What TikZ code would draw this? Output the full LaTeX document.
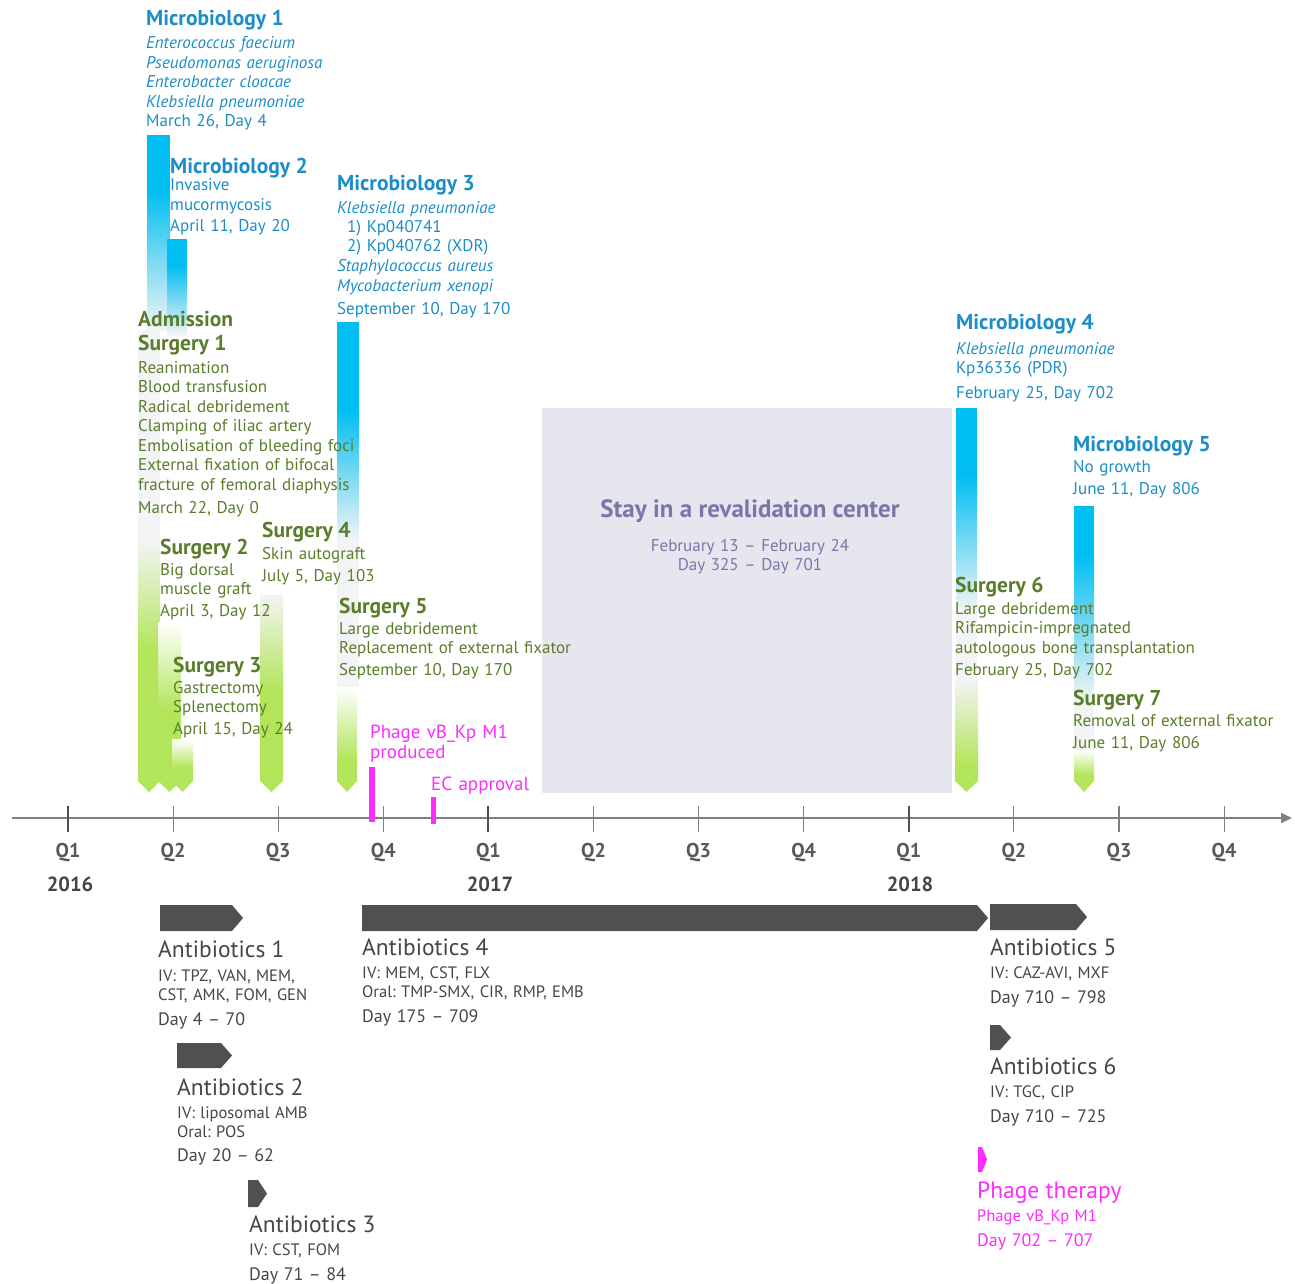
\documentclass[tikz,border=0pt]{standalone}
\usepackage{fontspec}
\setmainfont{PT Sans}
\frenchspacing
\usetikzlibrary{arrows.meta}
\definecolor{microblue}{HTML}{1C8DC6}
\definecolor{barcyan}{HTML}{00BEF2}
\definecolor{barpale}{HTML}{F3F4F5}
\definecolor{surggreen}{HTML}{5A7D2B}
\definecolor{bargreen}{HTML}{B3E55A}
\definecolor{staybox}{HTML}{E6E6EF}
\definecolor{staytext}{HTML}{7A76AA}
\definecolor{abdark}{HTML}{505050}
\definecolor{abtext}{HTML}{454545}
\definecolor{phage}{HTML}{FF2BFF}
\definecolor{axisgray}{HTML}{808080}

\begin{document}
\begin{tikzpicture}[x=1pt, y=-1pt,
        microhead/.style={anchor=base west, inner sep=0, text=microblue, font=\fontsize{21.5}{24}\selectfont\bfseries},
        microtext/.style={anchor=base west, inner sep=0, text width=340pt, align=left, text=microblue, font=\fontsize{17}{19.5}\selectfont},
        surghead/.style={anchor=base west, inner sep=0, text=surggreen, font=\fontsize{21.5}{24}\selectfont\bfseries},
        surgtext/.style={anchor=base west, inner sep=0, text width=340pt, align=left, text=surggreen, font=\fontsize{17}{19.5}\selectfont},
        abhead/.style={anchor=base west, inner sep=0, text=abtext, font=\fontsize{23.5}{26}\selectfont},
        abtextbox/.style={anchor=base west, inner sep=0, text width=340pt, align=left, text=abtext, font=\fontsize{16.5}{19}\selectfont},
        abarrow/.style={fill=abdark},
        phagetext/.style={anchor=base west, inner sep=0, text width=200pt, align=left, text=phage, font=\fontsize{19}{20}\selectfont},
        quarter/.style={anchor=base, inner sep=0, text=abtext!90, font=\fontsize{20}{22}\selectfont\bfseries},
        year/.style={anchor=base, inner sep=0, text=abtext, font=\fontsize{20.5}{23}\selectfont\bfseries}
    ]
    \useasboundingbox (0,0) rectangle (1295,1284);

    % revalidation stay
    \fill[staybox] (542,408) rectangle (952,793);
    \node[anchor=base, inner sep=0, text=staytext, font=\fontsize{25}{28}\selectfont\bfseries] (stay) at (750,517) {Stay in a revalidation center};
    \node[anchor=base, inner sep=0, text width=300pt, align=center, text=staytext, font=\fontsize{17}{19}\selectfont] (staydays) at (750,551) {February 13 – February 24\\Day 325 – Day 701};

    % microbiology bars
    \fill[barcyan] (147,135) rectangle (170,190);
    \shade[top color=barcyan, bottom color=barpale] (147,190) rectangle (170,330);
    \fill[barcyan] (167,239) rectangle (187,265);
    \shade[top color=barcyan, bottom color=barpale] (167,265) rectangle (187,335);
    \fill[barcyan] (337,322) rectangle (359,410);
    \shade[top color=barcyan, bottom color=barpale] (337,410) rectangle (359,540);
    \fill[barpale] (337,540) rectangle (359,687);
    \fill[barcyan] (956,408) rectangle (977,475);
    \shade[top color=barcyan, bottom color=barpale] (956,475) rectangle (977,610);
    \fill[barpale] (956,610) rectangle (977,680);
    \fill[barcyan] (1074,506) rectangle (1094,555);
    \shade[top color=barcyan, bottom color=barpale] (1074,555) rectangle (1094,700);
    \fill[barpale] (1074,700) rectangle (1094,750);

    % surgery bars
    \fill[barpale] (138,330) rectangle (160,540);
    \shade[top color=barpale, bottom color=bargreen] (138,540) rectangle (160,650);
    \fill[bargreen] (138,650) -- (160,650) -- (160,781) -- (149,792) -- (138,781) -- cycle;
    \shade[top color=white, bottom color=bargreen] (158,622) rectangle (181,710);
    \fill[bargreen] (158,710) -- (181,710) -- (181,781) -- (169.5,792) -- (158,781) -- cycle;
    \shade[top color=white, bottom color=bargreen] (172,739) rectangle (193,768);
    \fill[bargreen] (172,768) -- (193,768) -- (193,781) -- (182.5,792) -- (172,781) -- cycle;
    \shade[top color=barpale, bottom color=bargreen] (260,595) rectangle (283,690);
    \fill[bargreen] (260,690) -- (283,690) -- (283,781) -- (271.5,792) -- (260,781) -- cycle;
    \shade[top color=white, bottom color=bargreen] (337,687) rectangle (357,760);
    \fill[bargreen] (337,760) -- (357,760) -- (357,781) -- (347,792) -- (337,781) -- cycle;
    \shade[top color=barpale, bottom color=bargreen] (955,680) rectangle (978,765);
    \fill[bargreen] (955,765) -- (978,765) -- (978,781) -- (966.5,792) -- (955,781) -- cycle;
    \shade[top color=white, bottom color=bargreen] (1074,750) rectangle (1094,775);
    \fill[bargreen] (1074,775) -- (1094,775) -- (1094,781) -- (1084,792) -- (1074,781) -- cycle;

    % time axis
    \coordinate (axisstart) at (12,818);
    \coordinate (axisend) at (1292,818);
    \draw[axisgray, line width=1.4pt, -{Triangle[length=11pt, width=10pt]}] (axisstart) -- (axisend);
    \foreach \i/\q in {0/Q1,1/Q2,2/Q3,3/Q4,4/Q1,5/Q2,6/Q3,7/Q4,8/Q1,9/Q2,10/Q3,11/Q4} {
        \draw[axisgray, line width=1.1pt] (68+105.1*\i,806) -- (68+105.1*\i,832);
        \node[quarter] (q\i) at (68+105.1*\i,857) {\q};
    }
    \foreach \i in {0,4,8}
        \draw[abdark, line width=2pt] (68+105.1*\i,806) -- (68+105.1*\i,832);
    \node[year] (y2016) at (70,891) {2016};
    \node[year] (y2017) at (490,891) {2017};
    \node[year] (y2018) at (910,891) {2018};

    % phage events
    \fill[phage] (369,767) rectangle (375,822);
    \fill[phage] (431,797) rectangle (436,824);
    \node[phagetext] (produced) at (370,738) {Phage vB\_Kp M1\\produced};
    \node[phagetext] (ecok) at (431,790) {EC approval};

    % microbiology texts
    \node[microhead] (micro1) at (146,26) {Microbiology 1};
    \node[microtext] (micro1txt) at (146,49) {\textit{Enterococcus faecium}\\\textit{Pseudomonas aeruginosa}\\\textit{Enterobacter cloacae}\\\textit{Klebsiella pneumoniae}\\March 26, Day 4};
    \node[microhead] (micro2) at (170,174) {Microbiology 2};
    \node[microtext] (micro2txt) at (170,191) {Invasive\\mucormycosis\\[1.5pt]April 11, Day 20};
    \node[microhead] (micro3) at (337,190) {Microbiology 3};
    \node[microtext] (micro3txt) at (337,213) {\textit{Klebsiella pneumoniae}\\\hspace{10pt}1) Kp040741\\\hspace{10pt}2) Kp040762 (XDR)\\\textit{Staphylococcus aureus}\\\textit{Mycobacterium xenopi}\\[3.5pt]September 10, Day 170};
    \node[microhead] (micro4) at (956,329) {Microbiology 4};
    \node[microtext] (micro4txt) at (956,354) {\textit{Klebsiella pneumoniae}\\Kp36336 (PDR)\\[5pt]February 25, Day 702};
    \node[microhead] (micro5) at (1073,451) {Microbiology 5};
    \node[microtext] (micro5txt) at (1073,472) {No growth\\[2.5pt]June 11, Day 806};

    % surgery texts
    \node[surghead] (admission) at (138,326) {Admission};
    \node[surghead] (surg1) at (138,350) {Surgery 1};
    \node[surgtext] (surg1txt) at (138,373) {Reanimation\\Blood transfusion\\Radical debridement\\Clamping of iliac artery\\Embolisation of bleeding foci\\External fixation of bifocal\\fracture of femoral diaphysis\\[3.5pt]March 22, Day 0};
    \node[surghead] (surg2) at (160,554) {Surgery 2};
    \node[surgtext] (surg2txt) at (160,575) {Big dorsal\\muscle graft\\[2.5pt]April 3, Day 12};
    \node[surghead] (surg3) at (173,672) {Surgery 3};
    \node[surgtext] (surg3txt) at (173,693) {Gastrectomy\\Splenectomy\\[2.5pt]April 15, Day 24};
    \node[surghead] (surg4) at (262,537) {Surgery 4};
    \node[surgtext] (surg4txt) at (262,559) {Skin autograft\\[2.5pt]July 5, Day 103};
    \node[surghead] (surg5) at (339,613) {Surgery 5};
    \node[surgtext] (surg5txt) at (339,634) {Large debridement\\Replacement of external fixator\\[2.5pt]September 10, Day 170};
    \node[surghead] (surg6) at (955,592) {Surgery 6};
    \node[surgtext] (surg6txt) at (955,614) {Large debridement\\Rifampicin-impregnated\\autologous bone transplantation\\[3pt]February 25, Day 702};
    \node[surghead] (surg7) at (1073,705) {Surgery 7};
    \node[surgtext] (surg7txt) at (1073,726) {Removal of external fixator\\[2.5pt]June 11, Day 806};

    % antibiotics
    \fill[abarrow] (160,905) -- (232,905) -- (243,918) -- (232,931) -- (160,931) -- cycle;
    \fill[abarrow] (362,905) -- (977,905) -- (988,918) -- (977,931) -- (362,931) -- cycle;
    \fill[abarrow] (990,904) -- (1076,904) -- (1087,917) -- (1076,930) -- (990,930) -- cycle;
    \fill[abarrow] (177,1043) -- (221,1043) -- (232,1055.5) -- (221,1068) -- (177,1068) -- cycle;
    \fill[abarrow] (248,1180) -- (258,1180) -- (267,1193.5) -- (258,1207) -- (248,1207) -- cycle;
    \fill[abarrow] (990,1025) -- (1000,1025) -- (1011,1037.5) -- (1000,1050) -- (990,1050) -- cycle;
    \fill[phage] (978,1147) -- (982,1147) -- (987,1159.5) -- (982,1172) -- (978,1172) -- cycle;

    \node[abhead] (ab1) at (158,957) {Antibiotics 1};
    \node[abtextbox] (ab1txt) at (158,981) {IV: TPZ, VAN, MEM,\\CST, AMK, FOM, GEN\\[6pt]{\fontsize{18}{19}\selectfont Day 4 – 70}};
    \node[abhead] (ab4) at (362,955) {Antibiotics 4};
    \node[abtextbox] (ab4txt) at (362,978) {IV: MEM, CST, FLX\\Oral: TMP-SMX, CIR, RMP, EMB\\[6pt]{\fontsize{18}{19}\selectfont Day 175 – 709}};
    \node[abhead] (ab2) at (177,1095) {Antibiotics 2};
    \node[abtextbox] (ab2txt) at (177,1118) {IV: liposomal AMB\\Oral: POS\\[5pt]{\fontsize{18}{19}\selectfont Day 20 – 62}};
    \node[abhead] (ab3) at (249,1232) {Antibiotics 3};
    \node[abtextbox] (ab3txt) at (249,1255) {IV: CST, FOM\\[6pt]{\fontsize{18}{19}\selectfont Day 71 – 84}};
    \node[abhead] (ab5) at (990,955) {Antibiotics 5};
    \node[abtextbox] (ab5txt) at (990,978) {IV: CAZ-AVI, MXF\\[6pt]{\fontsize{18}{19}\selectfont Day 710 – 798}};
    \node[abhead] (ab6) at (990,1074) {Antibiotics 6};
    \node[abtextbox] (ab6txt) at (990,1097) {IV: TGC, CIP\\[6pt]{\fontsize{18}{19}\selectfont Day 710 – 725}};
    \node[abhead, text=phage] (phagether) at (977,1198) {Phage therapy};
    \node[abtextbox, text=phage] (phagetxt) at (977,1221) {Phage vB\_Kp M1\\[6pt]{\fontsize{18}{19}\selectfont Day 702 – 707}};
\end{tikzpicture}
\end{document}
